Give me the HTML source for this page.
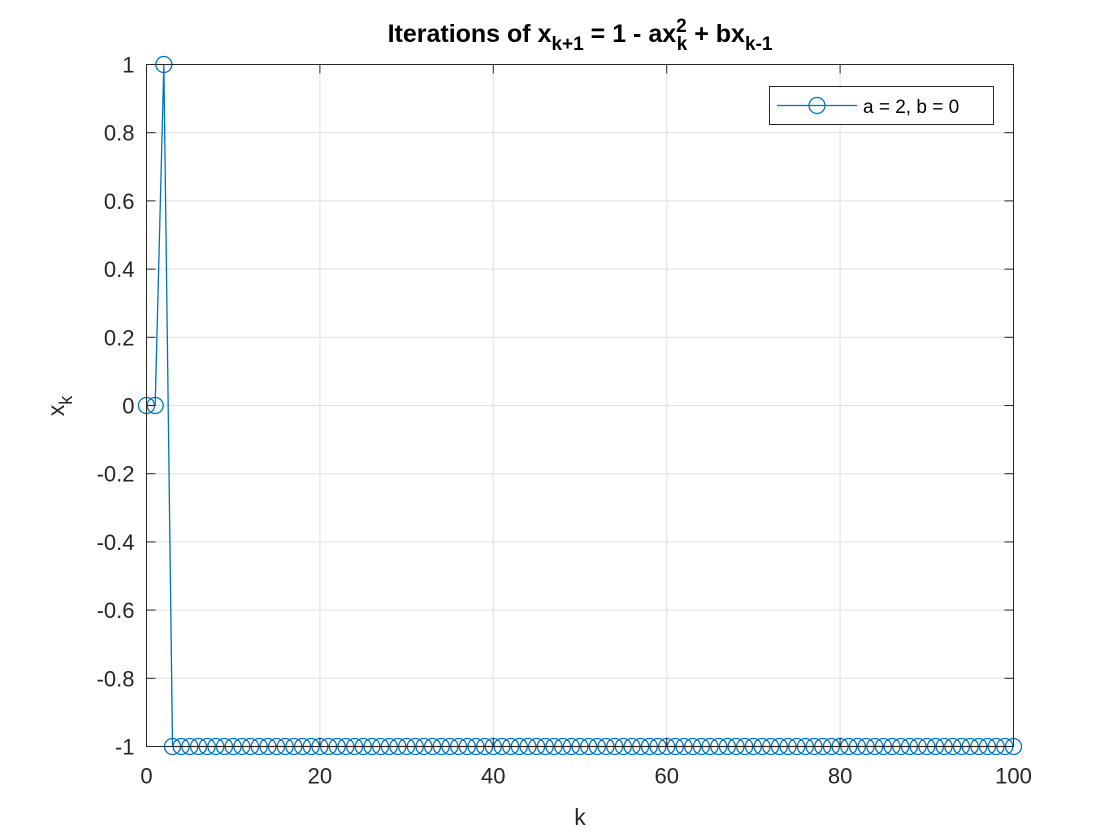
<!DOCTYPE html>
<html><head><meta charset="utf-8">
<style>
html,body{margin:0;padding:0;background:#fff;}
svg{display:block;font-family:"Liberation Sans",Arial,sans-serif;}
</style></head>
<body>
<svg id="chart" width="1120" height="840" viewBox="0 0 1120 840">
<rect x="0" y="0" width="1120" height="840" fill="#fff"/>
<rect x="146.5" y="64.5" width="867" height="682" fill="#fff"/>
<g id="grid"></g>
<g id="series"></g>
<rect x="146.5" y="64.5" width="867" height="682" fill="none" stroke="#262626" stroke-width="1"/>
<g id="ticks"></g>
<text x="580" y="42" text-anchor="middle" font-size="25" font-weight="bold" fill="#000">Iterations of x<tspan font-size="19" dy="8">k+1</tspan><tspan dy="-8"> = 1 - ax</tspan><tspan font-size="19" dy="-10">2</tspan><tspan font-size="19" dx="-10" dy="18">k</tspan><tspan dy="-8"> + bx</tspan><tspan font-size="19" dy="8">k-1</tspan></text>
<text x="580" y="825" text-anchor="middle" font-size="23" fill="#262626">k</text>
<text transform="translate(64,406) rotate(-90)" text-anchor="middle" font-size="23" fill="#262626">x<tspan font-size="18" dy="8">k</tspan></text>
<g>
<rect x="769.5" y="86.5" width="224" height="38" fill="#fff" stroke="#262626" stroke-width="1"/>
<line x1="777" y1="105.5" x2="857" y2="105.5" stroke="#0072BD" stroke-width="1.3"/>
<circle cx="817" cy="105.5" r="8" fill="none" stroke="#0072BD" stroke-width="1.3"/>
<text x="863" y="113" font-size="19" fill="#000">a = 2, b = 0</text>
</g>
</svg>
<script>
const kValues = Array.from({length:101},(_, i)=>i);
const xValues = [0,0,1].concat(Array(98).fill(-1));
const xTicks = [0,20,40,60,80,100];
const yTicks = [-1,-0.8,-0.6,-0.4,-0.2,0,0.2,0.4,0.6,0.8,1];
const xTickLabels = ["0","20","40","60","80","100"];
const yTickLabels = ["-1","-0.8","-0.6","-0.4","-0.2","0","0.2","0.4","0.6","0.8","1"];

const L=146.5,R=1013.5,T=64.5,B=746.5;
const sx=v=>L+(v-0)/(100-0)*(R-L);
const sy=v=>B-(v-(-1))/(1-(-1))*(B-T);
const NS="http://www.w3.org/2000/svg";
function mk(tag,attrs,parent){const e=document.createElementNS(NS,tag);for(const k in attrs)e.setAttribute(k,attrs[k]);parent.appendChild(e);return e;}
const grid=document.getElementById('grid'),ticks=document.getElementById('ticks'),series=document.getElementById('series');

xTicks.forEach((v,i)=>{
  const x=sx(v);
  const g=mk('line',{x1:x,y1:T,x2:x,y2:B,stroke:'#dfdfdf','stroke-width':1},grid);
  
  
  const t1=mk('line',{x1:x,y1:B,x2:x,y2:B-9,stroke:'#262626'},ticks);
  
  
  const t2=mk('line',{x1:x,y1:T,x2:x,y2:T+9,stroke:'#262626'},ticks);
  
  
  const lb=mk('text',{x:x,y:B+37,'text-anchor':'middle','font-size':22,fill:'#262626'},ticks);
  lb.textContent=xTickLabels[i];
  
  
});
yTicks.forEach((v,i)=>{
  const y=sy(v);
  const g=mk('line',{x1:L,y1:y,x2:R,y2:y,stroke:'#dfdfdf','stroke-width':1},grid);
  
  
  const t1=mk('line',{x1:L,y1:y,x2:L+9,y2:y,stroke:'#262626'},ticks);
  
  
  const t2=mk('line',{x1:R,y1:y,x2:R-9,y2:y,stroke:'#262626'},ticks);
  
  
  const lb=mk('text',{x:L-12,y:y+8,'text-anchor':'end','font-size':22,fill:'#262626'},ticks);
  lb.textContent=yTickLabels[i];
  
  
});
const pts=kValues.map((k,i)=>sx(k).toFixed(2)+','+sy(xValues[i]).toFixed(2)).join(' ');
const pl=mk('polyline',{points:pts,fill:'none',stroke:'#0072BD','stroke-width':1.3},series);


kValues.forEach((k,i)=>{
  const c=mk('circle',{cx:sx(k),cy:sy(xValues[i]),r:8,fill:'none',stroke:'#0072BD','stroke-width':1.3},series);
  
  
});
</script>
</body></html>
